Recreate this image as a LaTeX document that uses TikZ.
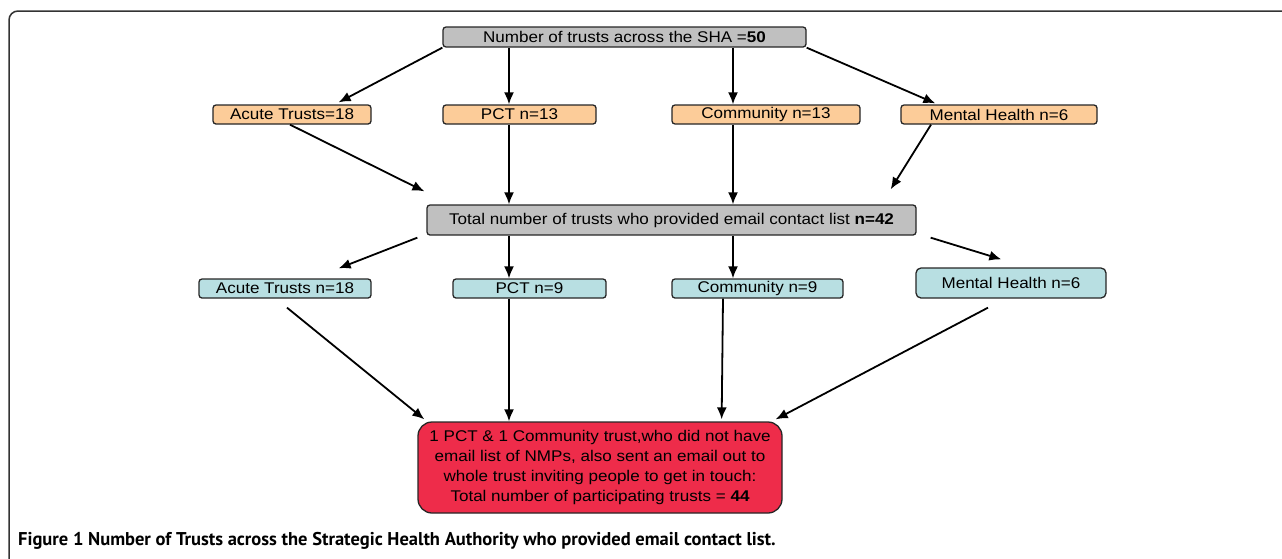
\documentclass[tikz,border=0pt]{standalone}
\usepackage{fontspec}
\newfontfamily\boxfont[FakeStretch=1.1]{Liberation Sans}
\newfontfamily\capfont{PT Sans}
\usepackage{tikz}
\usetikzlibrary{arrows.meta}

\definecolor{shagrey}{RGB}{192,192,192}
\definecolor{allorange}{RGB}{252,204,153}
\definecolor{listcyan}{RGB}{184,223,226}
\definecolor{totalred}{RGB}{238,44,74}

\begin{document}
\begin{tikzpicture}
   [x=1pt,y=-1pt,
    box/.style={draw=black!85,line width=1.3pt,rounded corners=3pt,inner sep=0pt,
                font=\boxfont\fontsize{15.5}{20}\selectfont},
    arr/.style={-{Latex[length=12pt,width=10pt]},line width=1.8pt}]
   \useasboundingbox (0,0) rectangle (1282,558);
   \draw[line width=1.5pt,black!80,rounded corners=9pt] (1290,11) -- (9,11) -- (9,570);

   \coordinate (colL) at (509,0);
   \coordinate (colR) at (733,0);

   \node[box,fill=shagrey,minimum width=363,minimum height=20] (sha) at (624.5,37)
      {Number of trusts across the SHA =\textbf{50}};

   \begin{scope}[every node/.style={box,fill=allorange,minimum height=19}]
      \node[minimum width=158] (acute1) at (292,114.5) {Acute Trusts=18};
      \node[minimum width=153] (pct1) at (519.5,114.5) {PCT n=13};
      \node[minimum width=188] (comm1) at (766,114.5) {Community n=13};
      \node[minimum width=196] (mh1) at (999,114.5) {Mental Health n=6};
   \end{scope}

   \node[box,fill=shagrey,minimum width=489,minimum height=30] (total) at (671.5,220)
      {Total number of trusts who provided email contact list \textbf{n=42}};

   \begin{scope}[every node/.style={box,fill=listcyan,minimum height=19}]
      \node[minimum width=172] (acute2) at (285,288.5) {Acute Trusts n=18};
      \node[minimum width=153] (pct2) at (529.5,288.5) {PCT n=9};
      \node[minimum width=171] (comm2) at (757.5,288.5) {Community n=9};
      \node[minimum width=190,minimum height=30,rounded corners=5pt] (mh2) at (1011,283) {Mental Health n=6};
   \end{scope}

   \node[box,fill=totalred,minimum width=364,minimum height=91,rounded corners=14pt,align=center] (red) at (600,467.5)
      {1 PCT \& 1 Community trust,who did not have\\
       email list of NMPs, also sent an email out to\\
       whole trust inviting people to get in touch:\\
       Total number of participating trusts = \textbf{44}};

   \draw[arr] (sha.south west) -- ([xshift=-33pt,yshift=2pt]acute1.north east);
   \draw[arr] (sha.south -| colL) -- (pct1.north -| colL);
   \draw[arr] (sha.south -| colR) -- (comm1.north -| colR);
   \draw[arr] (sha.south east) -- ([xshift=35pt,yshift=1pt]mh1.north west);

   \draw[arr] ([xshift=-2pt]acute1.south) -- ([xshift=-2pt,yshift=13pt]total.north west);
   \draw[arr] (pct1.south -| colL) -- (total.north -| colL);
   \draw[arr] (comm1.south -| colR) -- (total.north -| colR);
   \draw[arr] ([xshift=-68pt]mh1.south) -- ([xshift=-26pt,yshift=15pt]total.north east);

   \draw[arr] ([xshift=-9pt,yshift=-2pt]total.south west) -- ([xshift=-33pt,yshift=10pt]acute2.north east);
   \draw[arr] (total.south -| colL) -- (pct2.north -| colL);
   \draw[arr] (total.south -| colR) -- (comm2.north -| colR);
   \draw[arr] ([xshift=14pt,yshift=-2pt]total.south east) -- ([xshift=86pt,yshift=8pt]mh2.north west);

   \draw[arr] ([xshift=2pt,yshift=-9pt]acute2.south) -- ([xshift=7pt,yshift=2pt]red.north west);
   \draw[arr] (pct2.south -| colL) -- (red.north -| colL);
   \draw[arr] ([xshift=-34.5pt]comm2.south) -- ([xshift=-61pt,yshift=2pt]red.north east);
   \draw[arr] ([xshift=-23pt,yshift=-9pt]mh2.south) -- ([xshift=-7pt,yshift=2pt]red.north east);

   \node[anchor=base west,inner sep=0pt,font=\capfont\bfseries\fontsize{18.5}{22}\selectfont] (caption) at (18,545)
      {Figure 1 Number of Trusts across the Strategic Health Authority who provided email contact list.};
\end{tikzpicture}
\end{document}
